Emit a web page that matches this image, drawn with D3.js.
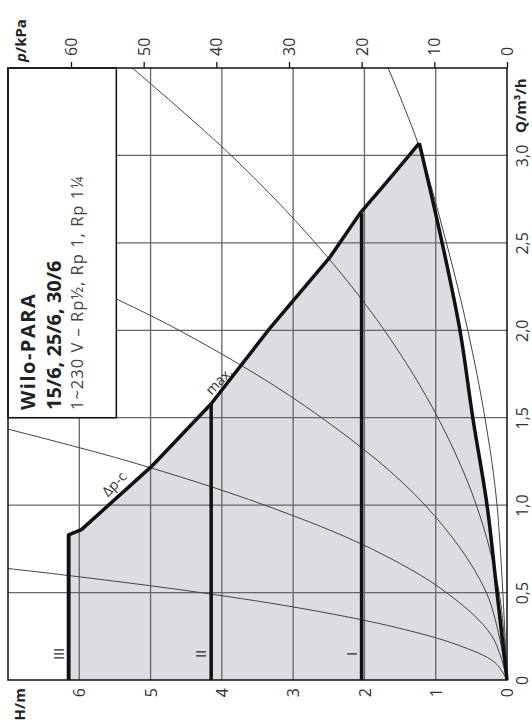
<!DOCTYPE html>
<html>
<head>
<meta charset="utf-8">
<script src="https://cdn.jsdelivr.net/npm/d3@7"></script>
<style>
  body { margin: 0; background: #fff; }
  svg text { font-family: "Open Sans", "DejaVu Sans", sans-serif; }
</style>
</head>
<body>
<div id="chart"></div>
<script>
// ticks
var hTicks = [0, 1, 2, 3, 4, 5, 6];
var qTicks = [0, 0.5, 1, 1.5, 2, 2.5, 3];
var pTicks = [0, 10, 20, 30, 40, 50, 60];
var hGrid = [1, 2, 3, 4, 5, 6];
var qGrid = [0.5, 1, 1.5, 2, 2.5, 3];

// max curve [Q, H] (speed III + dp-c max)
var maxCurve = [[0, 6.15], [0.83, 6.15], [0.86, 5.97], [1.22, 4.99], [1.58, 4.15],
  [2.02, 3.31], [2.42, 2.48], [2.67, 2.06], [2.87, 1.64], [3.07, 1.23]];
// min curve [Q, H]
var minCurve = [[3.07, 1.23], [2.5, 0.91], [2.0, 0.66], [1.5, 0.48], [1.0, 0.28], [0.5, 0.14], [0, 0]];

// speed steps
var stepNames = ["I", "II", "III"];
var stepHeads = [2.04, 4.15, 6.15];
var stepQmax = [2.67, 1.58, 0.83];

// system curves [Q, H]
var sysA = [[0, 0], [0.1, 0.17], [0.2, 0.69], [0.3, 1.55], [0.4, 2.75], [0.5, 4.3], [0.6, 6.2], [0.66, 7.5]];
var sysB = [[0, 0], [0.25, 0.21], [0.5, 0.85], [0.75, 1.9], [1.0, 3.4], [1.25, 5.3], [1.45, 7.15]];
var sysC = [[0, 0], [0.5, 0.29], [1.0, 1.15], [1.5, 2.6], [2.0, 4.6], [2.5, 7.2]];
var sysD = [[0, 0], [0.5, 0.11], [1, 0.43], [1.5, 0.97], [2, 1.72], [2.5, 2.69], [3, 3.87], [3.55, 5.4]];
var sysE = [[0, 0], [1, 0.14], [1.5, 0.31], [2, 0.55], [2.5, 0.85], [3.07, 1.25], [3.55, 1.72]];

// curve labels
var curveLabels = ["Δp-c", "max."];
var labelQ = [1.12, 1.71];
var labelH = [5.51, 4.04];

var width = 532, height = 724;

var svg = d3.select("#chart").append("svg")
  .attr("width", width)
  .attr("height", height);

// chart is rotated: H runs right->left, Q runs bottom->top
var x = d3.scaleLinear().domain([0, 7]).range([507, 8]);
var y = d3.scaleLinear().domain([0, 3.5]).range([680, 68]);
var xp = d3.scaleLinear().domain([0, 7 * 9.81]).range([507, 8]);

svg.append("defs").append("clipPath")
  .attr("id", "clip")
  .append("rect")
  .attr("x", x(7)).attr("y", y(3.5))
  .attr("width", x(0) - x(7)).attr("height", y(0) - y(3.5));

var line = d3.line()
  .x(function(d) { return x(d[1]); })
  .y(function(d) { return y(d[0]); });

// shaded operating area
var area = maxCurve.concat(minCurve.slice(1));
svg.append("path")
  .attr("d", "M" + x(0) + "," + y(0) + "L" + line(area).slice(1) + "Z")
  .attr("fill", "#dcdce2");

// grid
svg.selectAll(".hgrid")
  .data(hGrid).enter().append("line")
  .attr("x1", function(d) { return x(d); })
  .attr("x2", function(d) { return x(d); })
  .attr("y1", y(0)).attr("y2", y(3.5))
  .attr("stroke", "#666").attr("stroke-width", 1.3);

svg.selectAll(".qgrid")
  .data(qGrid).enter().append("line")
  .attr("y1", function(d) { return y(d); })
  .attr("y2", function(d) { return y(d); })
  .attr("x1", x(0)).attr("x2", x(7))
  .attr("stroke", "#666").attr("stroke-width", 1.3);

// system curves
var smooth = d3.line()
  .x(function(d) { return x(d[1]); })
  .y(function(d) { return y(d[0]); })
  .curve(d3.curveCatmullRom);

svg.append("g").attr("clip-path", "url(#clip)")
  .selectAll("path")
  .data([sysA, sysB, sysC, sysD, sysE])
  .enter().append("path")
  .attr("d", smooth)
  .attr("fill", "none")
  .attr("stroke", "#444")
  .attr("stroke-width", 1);

// thick curves
svg.append("path")
  .attr("d", line(maxCurve))
  .attr("fill", "none").attr("stroke", "#111")
  .attr("stroke-width", 3.5).attr("stroke-linejoin", "round");

svg.append("path")
  .attr("d", smooth(minCurve))
  .attr("fill", "none").attr("stroke", "#111")
  .attr("stroke-width", 3.5).attr("stroke-linejoin", "round");

svg.selectAll(".step")
  .data(stepNames).enter().append("line")
  .attr("x1", function(d, i) { return x(stepHeads[i]); })
  .attr("x2", function(d, i) { return x(stepHeads[i]); })
  .attr("y1", y(0))
  .attr("y2", function(d, i) { return y(stepQmax[i]); })
  .attr("stroke", "#111").attr("stroke-width", 3.5);

svg.selectAll(".steplabel")
  .data(stepNames).enter().append("text")
  .attr("transform", function(d, i) {
    return "translate(" + (x(stepHeads[i]) - 5) + "," + y(0.15) + ") rotate(-90)";
  })
  .attr("text-anchor", "middle")
  .attr("font-size", 14)
  .attr("fill", "#333")
  .text(function(d) { return d; });

svg.selectAll(".curvelabel")
  .data(curveLabels).enter().append("text")
  .attr("transform", function(d, i) {
    return "translate(" + x(labelH[i]) + "," + y(labelQ[i]) + ") rotate(-46)";
  })
  .attr("text-anchor", "middle")
  .attr("dy", "0.35em")
  .attr("font-size", 14)
  .attr("fill", "#333")
  .text(function(d) { return d; });

// legend box
svg.append("rect")
  .attr("x", x(7)).attr("y", y(3.5))
  .attr("width", x(5.48) - x(7)).attr("height", y(1.5) - y(3.5))
  .attr("fill", "#fff").attr("stroke", "#111").attr("stroke-width", 1.5);

var title = svg.append("g").attr("fill", "#222");
title.append("text")
  .attr("transform", "translate(35,410) rotate(-90)")
  .attr("font-size", 20).attr("font-weight", "bold")
  .attr("letter-spacing", 1.5)
  .text("Wilo-PARA");
title.append("text")
  .attr("transform", "translate(61,410) rotate(-90)")
  .attr("font-size", 20).attr("font-weight", "bold")
  .text("15/6, 25/6, 30/6");
title.append("text")
  .attr("transform", "translate(83,410) rotate(-90)")
  .attr("font-size", 16.5).attr("fill", "#444")
  .attr("letter-spacing", 1)
  .text("1~230 V – Rp½, Rp 1, Rp 1¼");

// frame
svg.append("rect")
  .attr("x", x(7)).attr("y", y(3.5))
  .attr("width", x(0) - x(7)).attr("height", y(0) - y(3.5))
  .attr("fill", "none").attr("stroke", "#111").attr("stroke-width", 1.5);

// axes
var topAxis = svg.append("g")
  .attr("transform", "translate(0," + y(3.5) + ")")
  .call(d3.axisTop(xp).tickValues(pTicks).tickSize(6).tickFormat(d3.format("d")));
topAxis.select(".domain").remove();
topAxis.selectAll("line").attr("stroke", "#111").attr("stroke-width", 1.3);
topAxis.selectAll("text")
  .attr("x", 0).attr("y", 0).attr("dy", "0.35em")
  .attr("transform", "translate(0,-12) rotate(-90)")
  .attr("text-anchor", "start")
  .attr("font-size", 16).attr("fill", "#333");

var rightAxis = svg.append("g")
  .attr("transform", "translate(" + x(0) + ",0)")
  .call(d3.axisRight(y).tickValues(qTicks).tickSize(0)
    .tickFormat(function(d) { return d === 0 ? "0" : d3.format(".1f")(d).replace(".", ","); }));
rightAxis.select(".domain").remove();
rightAxis.selectAll("text")
  .attr("x", 0).attr("y", 0).attr("dy", "0.35em")
  .attr("transform", "translate(15,0) rotate(-90)")
  .attr("text-anchor", "middle")
  .attr("font-size", 16).attr("fill", "#333");

var bottomAxis = svg.append("g")
  .attr("transform", "translate(0," + y(0) + ")")
  .call(d3.axisBottom(x).tickValues(hTicks).tickSize(0).tickFormat(d3.format("d")));
bottomAxis.select(".domain").remove();
bottomAxis.selectAll("text")
  .attr("x", 0).attr("y", 0).attr("dy", "0.35em")
  .attr("transform", "translate(0,8) rotate(-90)")
  .attr("text-anchor", "end")
  .attr("font-size", 16).attr("fill", "#333");

// axis titles
var pt = svg.append("text")
  .attr("transform", "translate(21,62) rotate(-90)")
  .attr("dy", "0.35em")
  .attr("font-size", 15).attr("font-weight", "bold").attr("fill", "#222");
pt.append("tspan").attr("font-style", "italic").text("p");
pt.append("tspan").text("/kPa");

svg.append("text")
  .attr("transform", "translate(521,133) rotate(-90)")
  .attr("dy", "0.35em")
  .attr("font-size", 15).attr("font-weight", "bold").attr("fill", "#222")
  .text("Q/m³/h");

svg.append("text")
  .attr("transform", "translate(20,688) rotate(-90)")
  .attr("dy", "0.35em")
  .attr("text-anchor", "end")
  .attr("font-size", 15).attr("font-weight", "bold").attr("fill", "#222")
  .text("H/m");
</script>
</body>
</html>
